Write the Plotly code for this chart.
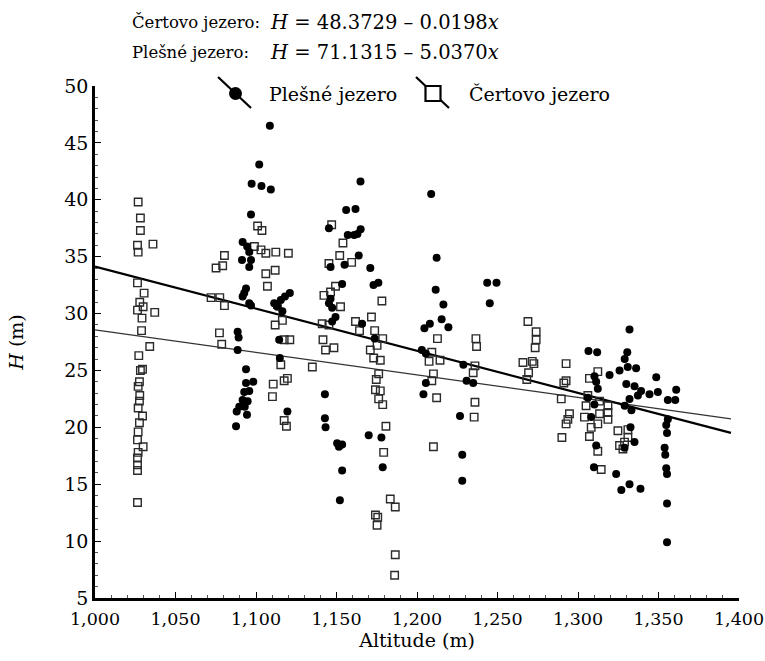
import plotly.graph_objects as go

# ---------------- data ----------------
plesne_x = [1108.6, 1102.0, 1097.3, 1103.4, 1109.2, 1096.9,
            1091.7, 1094.5, 1095.8, 1091.3, 1096.9, 1095.8,
            1093.8, 1092.7, 1091.7, 1095.8, 1096.9,
            1088.6, 1089.2, 1088.6, 1093.8, 1093.8, 1098.3, 1092.7, 1095.8, 1091.7, 1094.8, 1089.6, 1093.0, 1088.0, 1094.4, 1087.6,
            1115.4, 1118.0, 1121.0, 1113.3, 1116.4, 1111.3, 1114.4, 1114.8, 1119.5,
            1164.9, 1156.0, 1161.8, 1145.3, 1165.0, 1163.0, 1157.0, 1161.0, 1163.8, 1146.3, 1155.0, 1171.0, 1173.0, 1176.0,
            1153.5, 1146.3, 1145.3, 1147.3, 1149.4, 1147.3, 1165.9, 1173.7, 1142.8, 1142.8, 1143.2, 1150.4, 1151.5, 1153.5,
            1153.5, 1152.1, 1170.0, 1177.9, 1178.7,
            1208.8, 1212.2, 1211.6, 1216.4, 1215.3, 1204.6, 1208.0, 1219.5, 1203.0, 1205.5, 1205.5, 1204.0,
            1243.6, 1249.4, 1245.2, 1228.8, 1230.8, 1234.9, 1226.7, 1228.1, 1228.1,
            1332.0, 1306.5, 1311.9, 1330.6, 1329.0, 1330.9, 1336.1, 1325.8, 1319.6, 1348.6, 1310.2, 1311.3, 1312.3,
            1330.0, 1335.1, 1339.2, 1337.2, 1344.4, 1349.6, 1361.0, 1355.8, 1360.4, 1306.1, 1310.2, 1332.0, 1329.0,
            1333.2, 1308.2, 1355.8, 1354.8, 1355.3, 1332.6, 1335.1, 1328.9, 1311.3, 1353.8, 1354.2, 1354.8, 1355.3,
            1309.9, 1323.7, 1326.9, 1332.0, 1338.8, 1355.3, 1355.3]
plesne_h = [46.5, 43.1, 41.4, 41.2, 40.9, 38.7,
            36.3, 35.9, 35.4, 34.7, 34.7, 34.1,
            32.2, 31.8, 31.5, 30.9, 30.7,
            28.4, 27.9, 26.8, 25.1, 23.9, 24.0, 23.1, 23.2, 22.4, 22.3, 21.8, 21.8, 21.4, 21.1, 20.1,
            31.2, 31.5, 31.8, 30.6, 30.2, 30.9, 27.7, 26.1, 21.4,
            41.6, 39.1, 39.2, 37.5, 37.4, 37.0, 36.9, 36.9, 35.1, 34.1, 34.3, 34.0, 32.5, 32.7,
            32.6, 31.3, 30.9, 30.5, 29.7, 29.3, 29.1, 27.8, 22.9, 20.8, 20.0, 18.6, 18.3, 18.5,
            16.2, 13.6, 19.3, 19.1, 16.5,
            40.5, 34.9, 32.1, 30.8, 29.5, 28.7, 29.1, 28.8, 26.8, 26.5, 23.9, 22.9,
            32.7, 32.7, 30.9, 25.5, 24.1, 23.9, 21.0, 17.6, 15.3,
            28.6, 26.7, 26.6, 26.6, 26.0, 25.3, 25.2, 25.0, 24.6, 24.4, 24.5, 24.0, 23.4,
            23.8, 23.6, 23.2, 22.8, 22.9, 23.1, 23.3, 22.4, 22.4, 22.6, 22.0, 22.5, 21.9,
            21.5, 20.9, 20.7, 20.2, 19.5, 20.0, 18.7, 18.2, 18.4, 18.2, 17.6, 16.4, 15.9,
            16.5, 15.9, 14.5, 15.0, 14.6, 13.3, 9.9]

certovo_x = [1026.8, 1028.2, 1028.2, 1036.0, 1026.4, 1026.8, 1026.4, 1030.5, 1027.8, 1029.9, 1037.1, 1026.4,
             1029.2, 1028.9, 1034.0, 1027.2, 1028.2, 1029.5, 1027.6, 1026.8, 1027.8, 1027.6, 1026.8, 1029.5,
             1027.6, 1026.8, 1026.4, 1029.9, 1026.8, 1026.4, 1026.4, 1026.4, 1026.4,
             1072.1, 1077.5, 1080.4, 1075.2, 1079.3, 1080.4, 1077.3, 1078.7,
             1101.0, 1103.7, 1099.0, 1103.1, 1106.1, 1112.3, 1120.1, 1106.1, 1111.9, 1107.1, 1113.3, 1111.9,
             1116.4, 1117.5, 1121.0, 1115.4, 1110.7, 1117.5, 1119.5, 1110.2, 1117.5, 1118.9,
             1142.2, 1146.3, 1149.4, 1152.5, 1141.1, 1145.3, 1141.6, 1143.2, 1148.4, 1135.0,
             1147.0, 1154.0, 1152.0, 1145.3, 1159.4,
             1161.8, 1164.3, 1171.7, 1173.7, 1178.7, 1175.2, 1171.0, 1173.1, 1177.2, 1178.2, 1176.2, 1174.7,
             1174.2, 1177.2, 1176.2, 1178.7, 1180.7, 1179.3, 1183.4, 1186.5, 1174.2, 1175.6, 1175.2, 1186.5, 1186.1,
             1212.7, 1209.2, 1214.3, 1207.5, 1210.2, 1209.2, 1212.2, 1210.2,
             1236.6, 1237.0, 1236.0, 1234.9, 1236.0, 1235.5,
             1268.9, 1274.0, 1274.0, 1273.4, 1265.8, 1271.6, 1272.6, 1269.3, 1268.2,
             1292.6, 1292.6, 1291.2, 1289.6, 1294.7, 1293.7, 1292.6, 1290.0,
             1312.3, 1307.1, 1306.1, 1305.0, 1304.0, 1308.2, 1307.1, 1312.3, 1314.4, 1313.4, 1318.6, 1318.6,
             1318.6, 1313.4, 1312.3, 1324.8, 1331.0, 1325.8, 1328.9, 1327.9, 1331.0]
certovo_h = [39.8, 38.4, 37.3, 36.1, 36.0, 35.4, 32.7, 31.8, 31.0, 30.6, 30.1, 30.3,
             29.6, 28.5, 27.1, 26.3, 25.0, 25.1, 24.0, 23.6, 22.8, 22.3, 21.7, 21.0,
             20.4, 19.6, 18.9, 18.3, 17.8, 17.3, 16.7, 16.2, 13.4,
             31.4, 31.4, 30.7, 34.0, 34.2, 35.1, 28.3, 27.3,
             37.7, 37.3, 35.9, 35.6, 35.3, 35.4, 35.3, 33.5, 33.8, 32.4, 30.8, 29.0,
             29.4, 27.7, 27.7, 25.5, 23.8, 24.1, 24.3, 22.7, 20.6, 20.1,
             31.6, 31.9, 32.4, 30.6, 29.1, 29.0, 27.7, 26.8, 27.0, 25.3,
             37.8, 36.2, 35.1, 34.4, 34.5,
             29.3, 28.5, 29.7, 28.5, 27.8, 27.2, 26.8, 26.1, 25.9, 31.1, 24.7, 24.2,
             23.3, 23.2, 22.5, 22.0, 20.1, 17.8, 13.7, 13.0, 12.3, 12.1, 11.4, 8.8, 7.0,
             27.8, 26.6, 25.9, 25.8, 24.7, 24.1, 22.6, 18.3,
             27.8, 27.1, 25.4, 24.8, 22.2, 20.9,
             29.3, 28.4, 27.7, 27.0, 25.7, 25.8, 25.6, 24.8, 24.2,
             25.6, 24.1, 23.9, 22.5, 21.2, 20.7, 20.3, 19.1,
             24.9, 24.3, 22.8, 21.9, 20.9, 20.0, 19.2, 17.9, 16.3, 22.3, 21.9, 21.3,
             20.7, 21.2, 20.3, 19.7, 19.8, 18.4, 18.7, 18.1, 19.1]

# regression lines (from the printed equations, slope per metre)
line_x = [1000, 1395]
certovo_line = [48.3729 - 0.0198 * x for x in line_x]
plesne_line = [71.1315 - 0.0370 * x for x in line_x]

x_ticks = [1000, 1050, 1100, 1150, 1200, 1250, 1300, 1350, 1400]
y_ticks = [5, 10, 15, 20, 25, 30, 35, 40, 45, 50]

FONT = "DejaVu Serif"

# ---------------- layout geometry (pixels) ----------------
W, H = 765, 661
ML, MR, MT, MB = 95, 26, 86, 63
PW, PH = W - ML - MR, H - MT - MB


def px(xp):
    return (xp - ML) / PW


def py(yp):
    return (H - MB - yp) / PH


fig = go.Figure()

fig.add_trace(go.Scatter(
    x=line_x, y=certovo_line, mode="lines",
    line=dict(color="#333333", width=1.3), showlegend=False, hoverinfo="skip"))
fig.add_trace(go.Scatter(
    x=line_x, y=plesne_line, mode="lines",
    line=dict(color="black", width=2.2), showlegend=False, hoverinfo="skip"))

fig.add_trace(go.Scatter(
    x=certovo_x, y=certovo_h, mode="markers", name="Čertovo jezero",
    marker=dict(symbol="square-open", size=7.5, color="#2b2b2b", line=dict(width=1.4)),
    showlegend=False))
fig.add_trace(go.Scatter(
    x=plesne_x, y=plesne_h, mode="markers", name="Plešné jezero",
    marker=dict(symbol="circle", size=8, color="black", line=dict(width=0)),
    showlegend=False))

shapes = []
# legend symbol 1: diagonal line + filled circle
shapes.append(dict(type="line", xref="paper", yref="paper",
                   x0=px(218), y0=py(77), x1=px(251), y1=py(108),
                   line=dict(color="black", width=2.2)))
shapes.append(dict(type="circle", xref="paper", yref="paper",
                   xsizemode="pixel", ysizemode="pixel",
                   xanchor=px(235.5), yanchor=py(93.5),
                   x0=-6.5, x1=6.5, y0=-6.5, y1=6.5,
                   fillcolor="black", line=dict(color="black", width=0)))
# legend symbol 2: diagonal line + open square
shapes.append(dict(type="line", xref="paper", yref="paper",
                   x0=px(416), y0=py(77), x1=px(449), y1=py(108),
                   line=dict(color="black", width=2.2)))
shapes.append(dict(type="rect", xref="paper", yref="paper",
                   xsizemode="pixel", ysizemode="pixel",
                   xanchor=px(433), yanchor=py(93.5),
                   x0=-7.5, x1=7.5, y0=-7.5, y1=7.5,
                   fillcolor="white", line=dict(color="black", width=2.2)))

annotations = [
    dict(text="Plešné jezero", x=px(267), y=py(94), xref="paper", yref="paper",
         xanchor="left", yanchor="middle", showarrow=False, font=dict(size=19)),
    dict(text="Čertovo jezero", x=px(467), y=py(94), xref="paper", yref="paper",
         xanchor="left", yanchor="middle", showarrow=False, font=dict(size=19)),
    dict(text="Čertovo jezero:", x=px(130), y=py(22), xref="paper", yref="paper",
         xanchor="left", yanchor="middle", showarrow=False, font=dict(size=16.5)),
    dict(text="<i>H</i> = 48.3729 – 0.0198<i>x</i>", x=px(268), y=py(22), xref="paper", yref="paper",
         xanchor="left", yanchor="middle", showarrow=False, font=dict(size=19.5)),
    dict(text="Plešné jezero:", x=px(130), y=py(52), xref="paper", yref="paper",
         xanchor="left", yanchor="middle", showarrow=False, font=dict(size=16.5)),
    dict(text="<i>H</i> = 71.1315 – 5.0370<i>x</i>", x=px(268), y=py(52), xref="paper", yref="paper",
         xanchor="left", yanchor="middle", showarrow=False, font=dict(size=19.5)),
]

fig.update_layout(
    width=W, height=H,
    margin=dict(l=ML, r=MR, t=MT, b=MB, pad=0, autoexpand=False),
    paper_bgcolor="white", plot_bgcolor="white",
    font=dict(family=FONT, size=18, color="black"),
    shapes=shapes, annotations=annotations,
    showlegend=False,
)

fig.update_xaxes(
    range=[1000, 1400], tickvals=x_ticks, tickformat=",d",
    showline=True, linecolor="black", linewidth=2.5,
    ticks="inside", ticklen=6, tickwidth=1.2, tickcolor="black",
    minor=dict(dtick=10, ticks="inside", ticklen=3, tickwidth=1, tickcolor="#555"),
    showgrid=False, zeroline=False, automargin=False,
    ticklabeloverflow="allow", ticklabelstandoff=3,
    title=dict(text="Altitude (m)", font=dict(size=19), standoff=2),
    tickfont=dict(size=17.5),
)
fig.update_yaxes(
    range=[5, 50], tickvals=y_ticks,
    showline=True, linecolor="black", linewidth=2.5,
    ticks="inside", ticklen=6, tickwidth=1.2, tickcolor="black",
    minor=dict(dtick=1, ticks="inside", ticklen=3, tickwidth=1, tickcolor="#555"),
    showgrid=False, zeroline=False, automargin=False,
    title=dict(text="<i>H</i> (m)", font=dict(size=19), standoff=36),
    tickfont=dict(size=19),
)

fig.write_html("out.html")
